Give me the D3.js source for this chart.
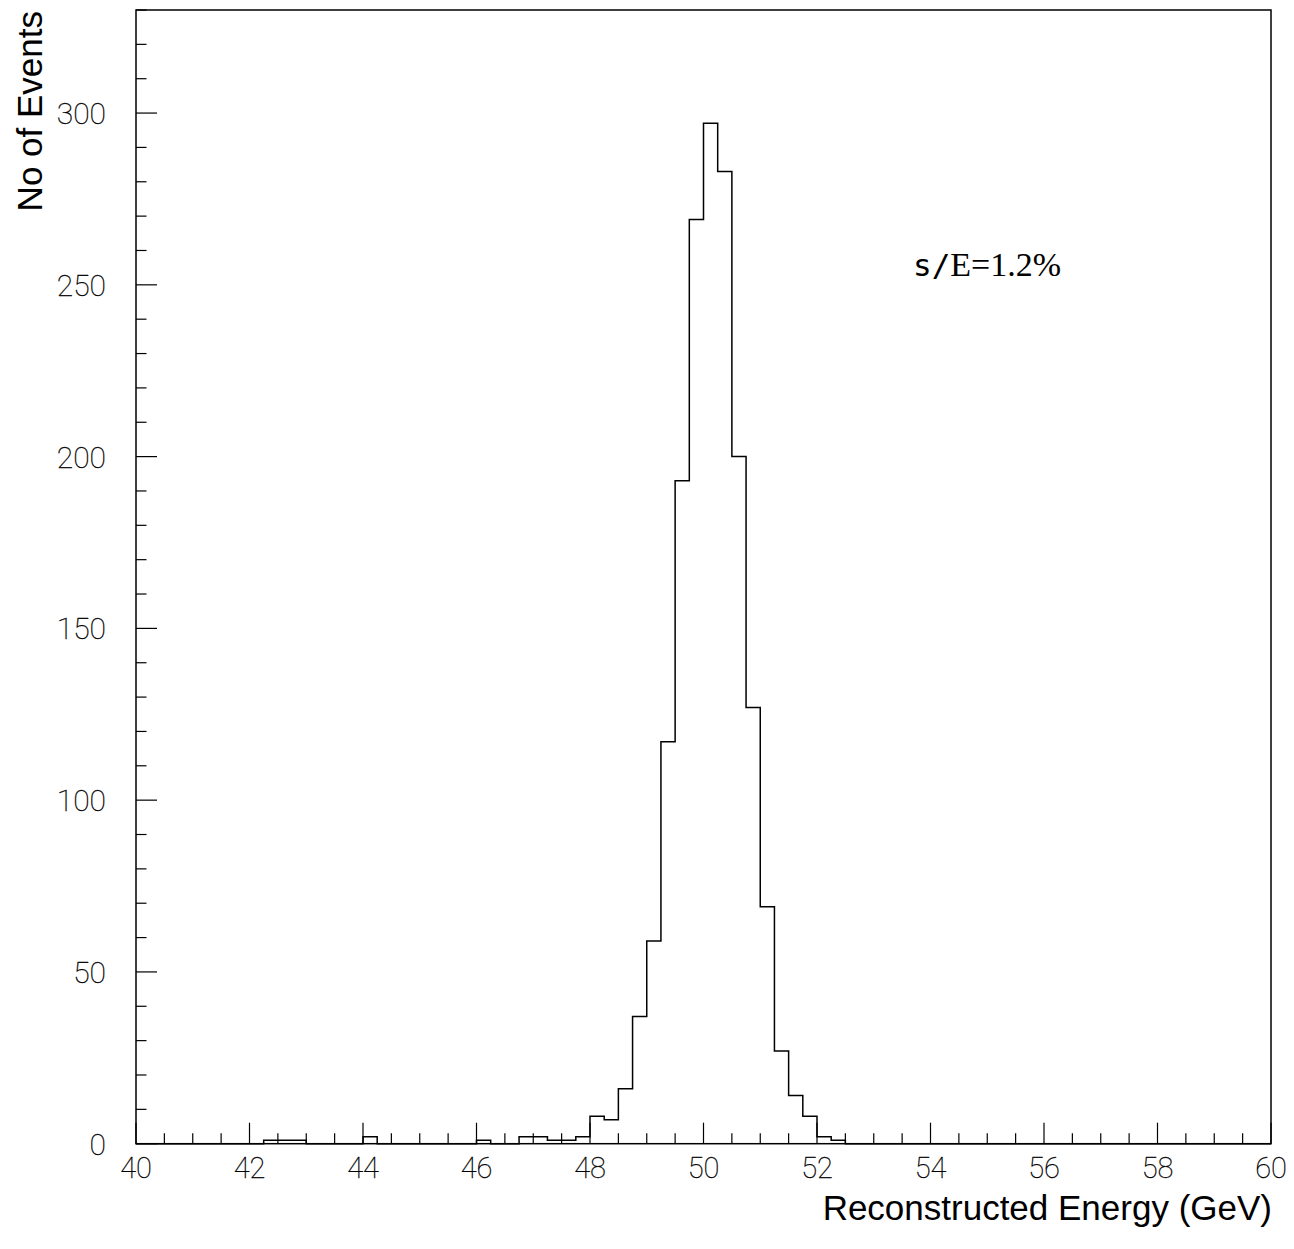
<!DOCTYPE html>
<html>
<head>
<meta charset="utf-8">
<script src="https://cdn.jsdelivr.net/npm/d3@7"></script>
<style>
  html, body { margin: 0; padding: 0; background: #fff; }
  svg { display: block; }
</style>
</head>
<body>
<svg id="chart" width="1294" height="1249"></svg>
<script>
// ---- data ----
const binLow = [
  40.00, 40.25, 40.50, 40.75, 41.00, 41.25, 41.50, 41.75,
  42.00, 42.25, 42.50, 42.75, 43.00, 43.25, 43.50, 43.75,
  44.00, 44.25, 44.50, 44.75, 45.00, 45.25, 45.50, 45.75,
  46.00, 46.25, 46.50, 46.75, 47.00, 47.25, 47.50, 47.75,
  48.00, 48.25, 48.50, 48.75, 49.00, 49.25, 49.50, 49.75,
  50.00, 50.25, 50.50, 50.75, 51.00, 51.25, 51.50, 51.75,
  52.00, 52.25, 52.50, 52.75, 53.00, 53.25, 53.50, 53.75,
  54.00, 54.25, 54.50, 54.75, 55.00, 55.25, 55.50, 55.75,
  56.00, 56.25, 56.50, 56.75, 57.00, 57.25, 57.50, 57.75,
  58.00, 58.25, 58.50, 58.75, 59.00, 59.25, 59.50, 59.75
];
const binWidth = 0.25;
const counts = [
  0, 0, 0, 0, 0, 0, 0, 0,
  0, 1, 1, 1, 0, 0, 0, 0,
  2, 0, 0, 0, 0, 0, 0, 0,
  1, 0, 0, 2, 2, 1, 1, 2,
  8, 7, 16, 37, 59, 117, 193, 269,
  297, 283, 200, 127, 69, 27, 14, 8,
  2, 1, 0, 0, 0, 0, 0, 0,
  0, 0, 0, 0, 0, 0, 0, 0,
  0, 0, 0, 0, 0, 0, 0, 0,
  0, 0, 0, 0, 0, 0, 0, 0
];
const xTickLabels = [40, 42, 44, 46, 48, 50, 52, 54, 56, 58, 60];
const yTickLabels = [0, 50, 100, 150, 200, 250, 300];
const xTitle = "Reconstructed Energy (GeV)";
const yTitle = "No of Events";
const annotation = { sym: "s/", rest: "E=1.2%" };

// ---- layout ----
const L = 136, R = 1271, T = 10, B = 1143.7;
const svg = d3.select("#chart");
const x = d3.scaleLinear().domain([40, 60]).range([L, R]);
const y = d3.scaleLinear().domain([0, 330]).range([B, T]);

const tickFont = "Roboto, 'DejaVu Sans', sans-serif";

// frame
svg.append("rect")
  .attr("x", L).attr("y", T).attr("width", R - L).attr("height", B - T)
  .attr("fill", "none").attr("stroke", "#000").attr("stroke-width", 1.5);

// x ticks (inward)
const xMinor = d3.range(0, 41).map(i => 40 + i * 0.5);
svg.append("g").selectAll("line").data(xMinor).join("line")
  .attr("x1", d => x(d)).attr("x2", d => x(d))
  .attr("y1", B)
  .attr("y2", d => (Math.abs(d % 2) < 1e-9) ? B - 21 : B - 10.5)
  .attr("stroke", "#000").attr("stroke-width", 1.2);

svg.append("g").selectAll("text").data(xTickLabels).join("text")
  .attr("x", d => x(d)).attr("y", 1178)
  .attr("text-anchor", "middle")
  .attr("font-family", tickFont).attr("font-weight", 100)
  .attr("font-size", 29)
  .attr("fill", "#000").attr("stroke", "#000").attr("stroke-width", 0.3)
  .text(d => d);

// y ticks (inward)
const yMinor = d3.range(0, 34).map(i => i * 10);
svg.append("g").selectAll("line").data(yMinor).join("line")
  .attr("y1", d => y(d)).attr("y2", d => y(d))
  .attr("x1", L)
  .attr("x2", d => (d % 50 === 0) ? L + 21 : L + 10.5)
  .attr("stroke", "#000").attr("stroke-width", 1.2);

svg.append("g").selectAll("text").data(yTickLabels).join("text")
  .attr("x", 106).attr("y", d => y(d) + 11)
  .attr("text-anchor", "end")
  .attr("font-family", tickFont).attr("font-weight", 100)
  .attr("font-size", 30)
  .attr("fill", "#000").attr("stroke", "#000").attr("stroke-width", 0.3)
  .text(d => d);

// histogram outline
const pts = binLow.map((b, i) => [b, counts[i]]);
pts.push([binLow[binLow.length - 1] + binWidth, counts[counts.length - 1]]);
const line = d3.line().x(d => x(d[0])).y(d => y(d[1])).curve(d3.curveStepAfter);
svg.append("path")
  .attr("d", line(pts))
  .attr("fill", "none").attr("stroke", "#000").attr("stroke-width", 1.5);

// titles
svg.append("text")
  .attr("x", 1272).attr("y", 1220)
  .attr("text-anchor", "end")
  .attr("font-family", "'Liberation Sans', Arial, sans-serif")
  .attr("font-size", 35)
  .text(xTitle);

svg.append("text")
  .attr("transform", "translate(42,11) rotate(-90)")
  .attr("text-anchor", "end")
  .attr("font-family", "'Liberation Sans', Arial, sans-serif")
  .attr("font-size", 35)
  .text(yTitle);

// annotation
const ann = svg.append("text").attr("x", 913).attr("y", 276)
  .attr("font-size", 34);
ann.append("tspan").attr("font-family", "'DejaVu Sans Mono', monospace")
  .attr("font-size", 31).text(annotation.sym);
ann.append("tspan").attr("font-family", "'Liberation Serif', 'Times New Roman', serif")
  .text(annotation.rest);
</script>
</body>
</html>
